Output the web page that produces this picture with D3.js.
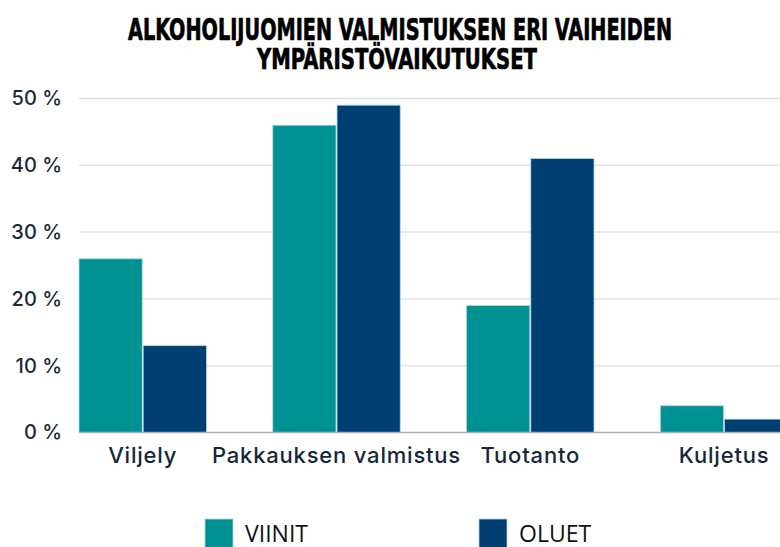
<!DOCTYPE html>
<html><head><meta charset="utf-8">
<script src="https://cdn.jsdelivr.net/npm/d3@7"></script>
<style>body{margin:0;background:#fff}svg{display:block}</style>
</head><body>
<svg id="c" width="780" height="547"></svg>
<script>
const categories = ["Viljely", "Pakkauksen valmistus", "Tuotanto", "Kuljetus"];
const seriesNames = ["VIINIT", "OLUET"];
const viinit = [26, 46, 19, 4];
const oluet = [13, 49, 41, 2];
const yTicks = [0, 10, 20, 30, 40, 50];
const colors = ["#009193", "#003f71"];
const titleLines = ["ALKOHOLIJUOMIEN VALMISTUKSEN ERI VAIHEIDEN", "YMPÄRISTÖVAIKUTUKSET"];

const svg = d3.select("#c");
const x0 = d3.scaleBand().domain(categories).range([79, 787.8]).paddingInner(0.3426).paddingOuter(0);
const x1 = d3.scaleBand().domain(seriesNames).range([0, x0.bandwidth()]).paddingInner(0.016);
const y = d3.scaleLinear().domain([0, 50]).range([432.5, 98.5]);

// title
const titleFont = "'Liberation Sans Narrow','DejaVu Sans Condensed',sans-serif";
const tl = svg.append("g");
tl.append("text").attr("x", 400).attr("y", 39.5).attr("text-anchor", "middle")
  .attr("font-family", titleFont)
  .attr("font-weight", "bold").attr("font-size", 30).attr("fill", "#000")
  .attr("stroke", "#000").attr("stroke-width", 0.7)
  .attr("textLength", 544).attr("lengthAdjust", "spacingAndGlyphs").text(titleLines[0]);
tl.append("text").attr("x", 397).attr("y", 68.5).attr("text-anchor", "middle")
  .attr("font-family", titleFont)
  .attr("font-weight", "bold").attr("font-size", 29).attr("fill", "#000")
  .attr("stroke", "#000").attr("stroke-width", 0.7)
  .attr("textLength", 280).attr("lengthAdjust", "spacingAndGlyphs").text(titleLines[1]);

// gridlines
svg.append("g").selectAll("line").data(yTicks.filter(d => d > 0)).join("line")
  .attr("x1", 79).attr("x2", 780).attr("y1", d => y(d)).attr("y2", d => y(d))
  .attr("stroke", "#dfe3e7").attr("stroke-width", 1.5);

// y axis labels
const yAxis = d3.axisLeft(y).tickValues(yTicks).tickFormat(d => d + " %").tickSize(0).tickPadding(0);
const ya = svg.append("g").attr("transform", "translate(62,0)").call(yAxis);
ya.select(".domain").remove();
ya.selectAll("text").attr("font-family", "Inter, 'Open Sans', sans-serif").attr("font-size", 20)
  .attr("font-weight", 500).attr("fill", "#1b2b3b");

// bars
const data = categories.map((c, i) => ({c, vals: [viinit[i], oluet[i]]}));
const g = svg.append("g").selectAll("g").data(data).join("g")
  .attr("transform", d => `translate(${x0(d.c)},0)`);
g.selectAll("rect").data(d => d.vals.map((v, j) => ({s: seriesNames[j], v, j}))).join("rect")
  .attr("x", d => x1(d.s)).attr("width", x1.bandwidth())
  .attr("y", d => y(d.v)).attr("height", d => y(0) - y(d.v))
  .attr("fill", d => colors[d.j]).attr("stroke", "#b3d3de").attr("stroke-width", 0.8);

// baseline
svg.append("line").attr("x1", 79).attr("x2", 780).attr("y1", y(0)).attr("y2", y(0))
  .attr("stroke", "#a7b0b9").attr("stroke-width", 1.5);

// x axis labels
const xAxis = d3.axisBottom(x0).tickSize(0).tickPadding(0);
const xa = svg.append("g").attr("transform", "translate(0,463)").call(xAxis);
xa.select(".domain").remove();
xa.selectAll("text").attr("dy", 0).attr("font-family", "Inter, 'Open Sans', sans-serif")
  .attr("font-size", 22).attr("font-weight", 500).attr("letter-spacing", 0.8).attr("fill", "#15283a");

// legend
const legX = [205, 479];
const lg = svg.append("g").selectAll("g").data(seriesNames).join("g")
  .attr("transform", (d, i) => `translate(${legX[i]},519)`);
lg.append("rect").attr("width", 28).attr("height", 30).attr("fill", (d, i) => colors[i])
  .attr("stroke", "#b3d3de").attr("stroke-width", 0.8);
lg.append("text").attr("x", 40).attr("y", 23).text(d => d)
  .attr("font-family", "'Open Sans', sans-serif").attr("font-size", 23).attr("fill", "#111");
</script>
</body></html>
